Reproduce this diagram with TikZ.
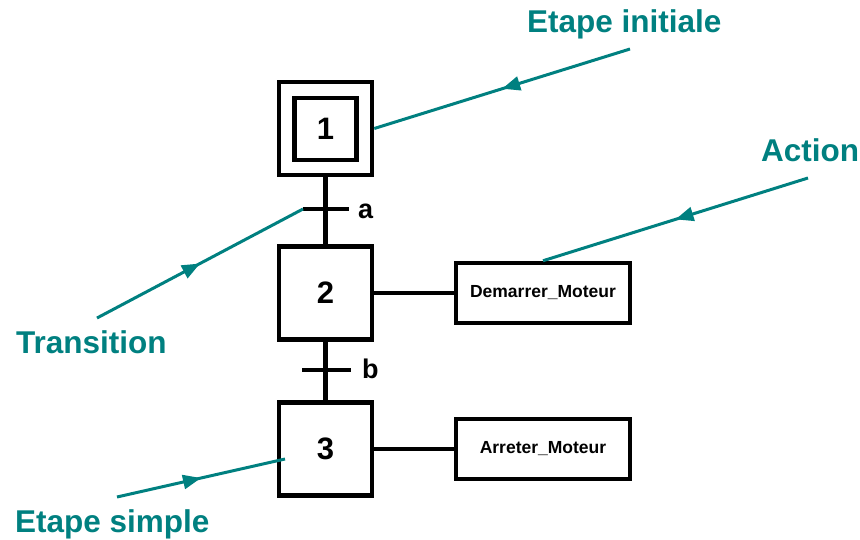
\documentclass[tikz,border=0pt]{standalone}
\usepackage{fontspec}
\setmainfont{Liberation Sans}
\usetikzlibrary{arrows.meta,decorations.markings}
\definecolor{tealc}{RGB}{0,128,128}
\begin{document}
\begin{tikzpicture}[x=1pt,y=-1pt,
  stepbox/.style={draw,line width=4.5pt,minimum width=93pt,minimum height=93pt,inner sep=0pt,
    font=\bfseries\fontsize{31}{31}\selectfont},
  innerbox/.style={draw,line width=4.5pt,minimum width=62pt,minimum height=62pt,inner sep=0pt,
    font=\bfseries\fontsize{31}{31}\selectfont},
  actbox/.style={draw,line width=4.5pt,minimum width=174pt,minimum height=60pt,inner sep=0pt,
    font=\bfseries\fontsize{17.5}{17.5}\selectfont},
  link/.style={line width=4.5pt},
  cond/.style={inner sep=0pt,anchor=base west,font=\bfseries\fontsize{27}{27}\selectfont},
  lab/.style={inner sep=0pt,anchor=base west,text=tealc,font=\bfseries\fontsize{31.5}{31.5}\selectfont},
  pointer/.style={draw=tealc,line width=3pt,
    decoration={markings,mark=at position 0.5 with {\arrow[tealc]{Triangle[length=18pt,width=14pt]}}},
    postaction={decorate}}
]
\useasboundingbox (0,0) rectangle (860,539);
% steps
\node[stepbox] (s1) at (325.5,128.5) {};
\node[innerbox] (s1i) at (325.5,129) {1};
\node[stepbox] (s2) at (325.5,293) {2};
\node[stepbox] (s3) at (325.5,449) {3};
% actions
\node[actbox] (a1) at (543,293) {Demarrer\_Moteur};
\node[actbox] (a2) at (543,449) {Arreter\_Moteur};
% transitions
\coordinate (tal) at (303,209);
\coordinate (tar) at (349,209);
\coordinate (tbl) at (302,370);
\coordinate (tbr) at (351,370);
\draw[link] (s1.south) -- (s2.north);
\draw[link] (s2.south) -- (s3.north);
\draw[link] (tal) -- (tar);
\draw[link] (tbl) -- (tbr);
\draw[link] (s2.east) -- (a1.west);
\draw[link] (s3.east) -- (a2.west);
\node[cond] (la) at (358,218) {a};
\node[cond] (lb) at (362,378) {b};
% labels
\node[lab] (l1) at (527,32) {Etape initiale};
\node[lab] (l2) at (761,161) {Action};
\node[lab] (l3) at (16,353) {Transition};
\node[lab] (l4) at (15,532) {Etape simple};
\coordinate (p1) at (630,49);
\coordinate (p2) at (808,178);
\coordinate (p3) at (97,318);
\coordinate (p4) at (117,497);
\coordinate (e4) at (285,459);
\path[pointer] (p1) -- (s1.east);
\path[pointer] (p2) -- (a1.north);
\path[pointer] (p3) -- (tal);
\path[pointer] (p4) -- (e4);
\end{tikzpicture}
\end{document}
